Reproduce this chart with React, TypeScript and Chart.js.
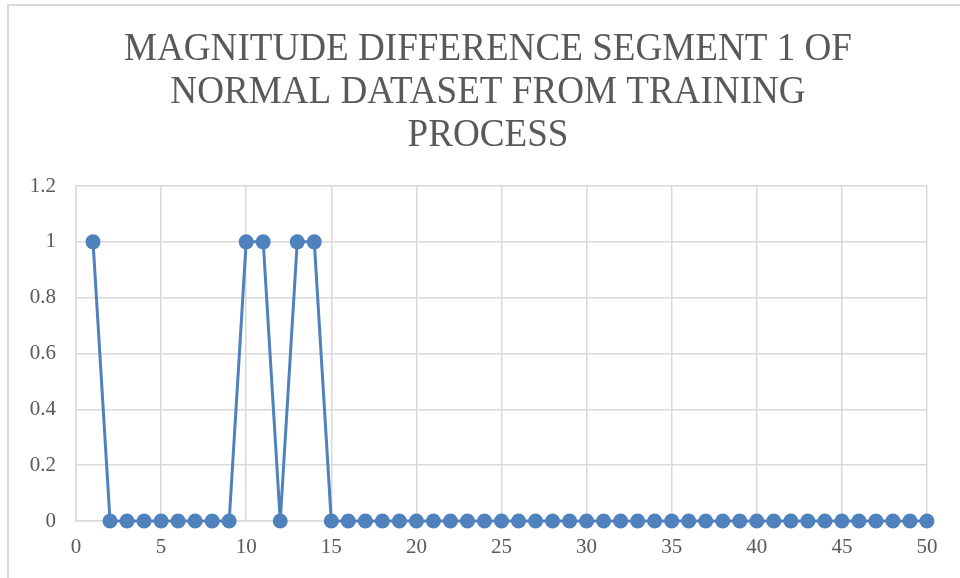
import React, { useEffect, useRef } from "react";
import { Chart, registerables } from "chart.js";

Chart.register(...registerables);

const titleLines = ["MAGNITUDE DIFFERENCE SEGMENT 1 OF", "NORMAL DATASET FROM TRAINING", "PROCESS"];
const xValues = Array.from({ length: 50 }, (_, i) => i + 1);
const yValues = [
  1, 0, 0, 0, 0, 0, 0, 0, 0, 1,
  1, 0, 1, 1, 0, 0, 0, 0, 0, 0,
  0, 0, 0, 0, 0, 0, 0, 0, 0, 0,
  0, 0, 0, 0, 0, 0, 0, 0, 0, 0,
  0, 0, 0, 0, 0, 0, 0, 0, 0, 0,
];
const xTicks = [0, 5, 10, 15, 20, 25, 30, 35, 40, 45, 50];
const yTicks = [0, 0.2, 0.4, 0.6, 0.8, 1, 1.2];

const FONT = "'Liberation Serif', 'Times New Roman', serif";
const TEXT = "#595959";

const titlePlugin = {
  id: "squeezedTitle",
  afterDraw(chart: any) {
    const ctx = chart.ctx;
    ctx.save();
    ctx.font = `40px ${FONT}`;
    ctx.fillStyle = TEXT;
    ctx.textAlign = "center";
    ctx.textBaseline = "alphabetic";
    const w0 = ctx.measureText(titleLines[0]).width;
    const sx = 728 / w0;
    const baselines = [60, 103, 146];
    const cx = 488;
    titleLines.forEach((line, i) => {
      ctx.save();
      ctx.translate(cx, baselines[i]);
      ctx.scale(sx, 1);
      ctx.fillText(line, 0, 0);
      ctx.restore();
    });
    ctx.restore();
  },
};

export default function App() {
  const ref = useRef<HTMLCanvasElement>(null);
  useEffect(() => {
    if (!ref.current) return;
    const chart = new Chart(ref.current, {
      type: "line",
      data: {
        datasets: [
          {
            data: xValues.map((x, i) => ({ x, y: yValues[i] })),
            borderColor: "#4F81BD",
            backgroundColor: "#4F81BD",
            borderWidth: 3,
            pointRadius: 7.5,
            pointHoverRadius: 7.5,
            pointBorderWidth: 0,
            tension: 0,
            clip: false,
          },
        ],
      },
      options: {
        animation: false,
        responsive: false,
        events: [],
        layout: { padding: { top: 186, right: 33, bottom: 0, left: 0 } },
        plugins: { legend: { display: false }, title: { display: false }, tooltip: { enabled: false } },
        scales: {
          x: {
            type: "linear",
            min: 0,
            max: 50,
            afterBuildTicks(axis: any) {
              axis.ticks = xTicks.map((v) => ({ value: v }));
            },
            afterFit(axis: any) {
              axis.height = 57;
            },
            grid: { color: "#D9D9D9", lineWidth: 1.5, drawTicks: false },
            border: { color: "#D9D9D9", width: 1.5 },
            ticks: { color: TEXT, font: { family: FONT, size: 21 }, padding: 14, maxRotation: 0 },
          },
          y: {
            min: 0,
            max: 1.2,
            afterBuildTicks(axis: any) {
              axis.ticks = yTicks.map((v) => ({ value: v }));
            },
            afterFit(axis: any) {
              axis.width = 76;
            },
            grid: { color: "#D9D9D9", lineWidth: 1.5, drawTicks: false },
            border: { color: "#D9D9D9", width: 1.5 },
            ticks: {
              color: TEXT,
              font: { family: FONT, size: 21 },
              padding: 20,
              callback: (v: any) => String(Math.round(Number(v) * 10) / 10),
            },
          },
        },
      },
      plugins: [titlePlugin],
    });
    return () => chart.destroy();
  }, []);
  return (
    <div style={{ position: "fixed", left: 0, top: 0, width: 960, height: 578, background: "#fff" }}>
      <div
        style={{
          position: "absolute",
          left: 7,
          top: 4,
          width: 960,
          height: 600,
          borderLeft: "2px solid #D9D9D9",
          borderTop: "2px solid #D9D9D9",
        }}
      />
      <canvas ref={ref} width={960} height={578} style={{ position: "absolute", left: 0, top: 0 }} />
    </div>
  );
}
